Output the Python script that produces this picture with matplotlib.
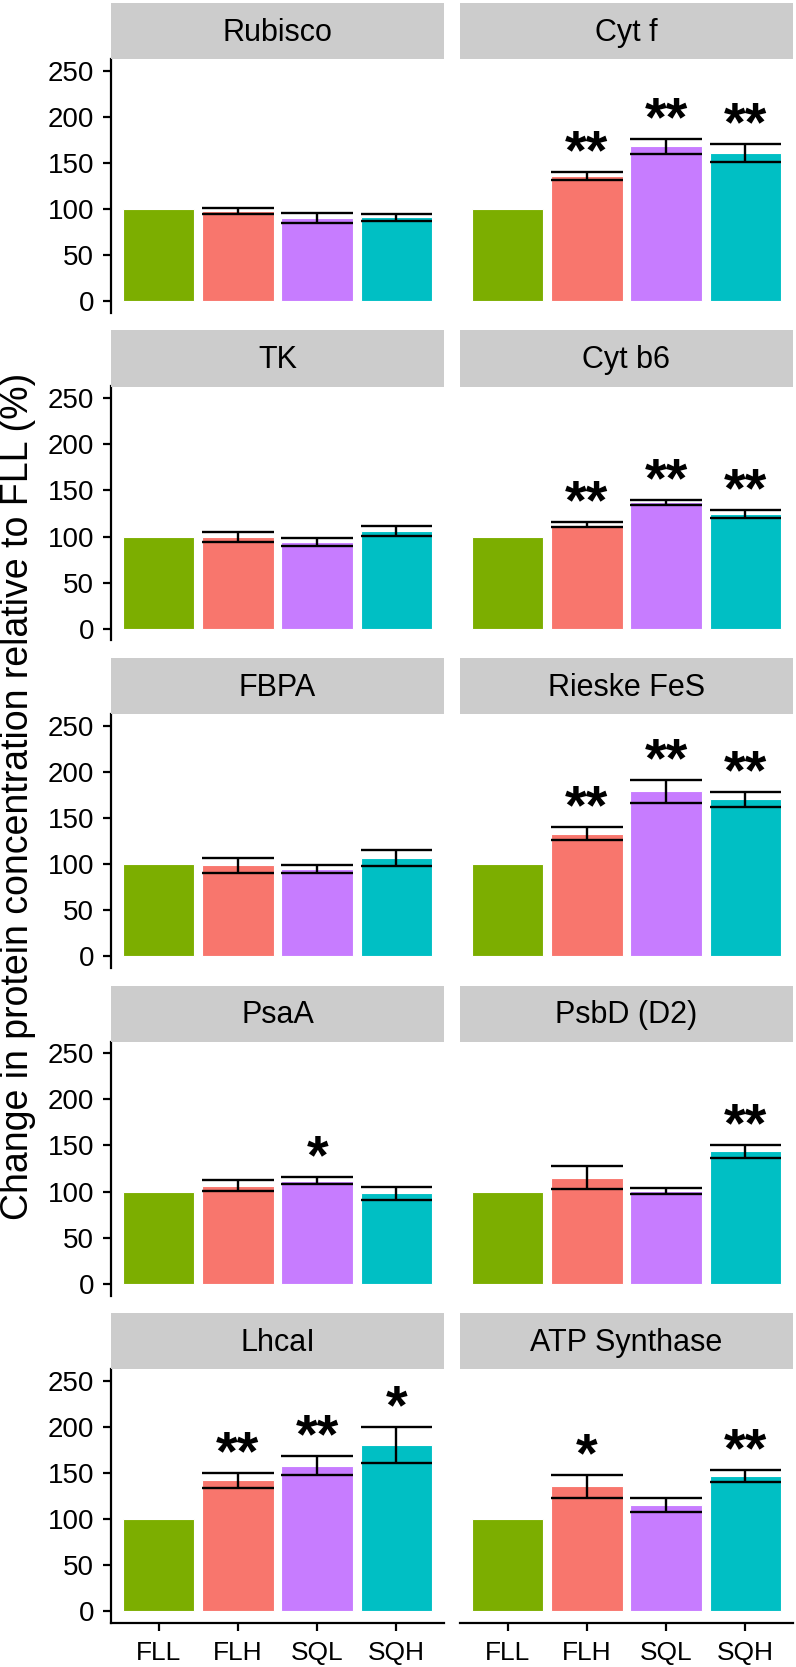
import matplotlib
matplotlib.use("Agg")
import matplotlib.pyplot as plt
import numpy as np

plt.rcParams['font.family'] = ['Liberation Sans', 'DejaVu Sans']

groups = ["FLL", "FLH", "SQL", "SQH"]
colors = ["#7CAE00", "#F8766D", "#C77CFF", "#00BFC4"]
proteins = ["Rubisco", "Cyt f", "TK", "Cyt b6", "FBPA", "Rieske FeS",
            "PsaA", "PsbD (D2)", "LhcaI", "ATP Synthase"]

rubisco_mean = [100, 98, 90, 91]
rubisco_se = [0, 3.5, 5.4, 4.0]
cytf_mean = [100, 136, 168, 161]
cytf_se = [0, 4.5, 8.2, 10.0]
tk_mean = [100, 99.8, 94, 106]
tk_se = [0, 5.2, 4.5, 5.5]
cytb6_mean = [100, 113, 137, 124]
cytb6_se = [0, 2.5, 3.0, 4.3]
fbpa_mean = [100, 98.5, 95, 106.5]
fbpa_se = [0, 8.0, 4.5, 8.3]
rieske_mean = [100, 133, 179, 170.3]
rieske_se = [0, 7.4, 12.4, 8.1]
psaa_mean = [100, 106.5, 112, 98.4]
psaa_se = [0, 6.0, 4.3, 7.0]
psbd_mean = [100, 115, 101, 143.5]
psbd_se = [0, 12.6, 3.4, 7.2]
lhca_mean = [100, 142, 158, 180]
lhca_se = [0, 8.3, 10.0, 19.6]
atp_mean = [100, 135.5, 115, 146.5]
atp_se = [0, 12.2, 7.4, 6.5]

rubisco_sig = ["", "", "", ""]
cytf_sig = ["", "**", "**", "**"]
tk_sig = ["", "", "", ""]
cytb6_sig = ["", "**", "**", "**"]
fbpa_sig = ["", "", "", ""]
rieske_sig = ["", "**", "**", "**"]
psaa_sig = ["", "", "*", ""]
psbd_sig = ["", "", "", "**"]
lhca_sig = ["", "**", "**", "*"]
atp_sig = ["", "*", "", "**"]

means = [rubisco_mean, cytf_mean, tk_mean, cytb6_mean, fbpa_mean,
         rieske_mean, psaa_mean, psbd_mean, lhca_mean, atp_mean]
ses = [rubisco_se, cytf_se, tk_se, cytb6_se, fbpa_se,
       rieske_se, psaa_se, psbd_se, lhca_se, atp_se]
sigs = [rubisco_sig, cytf_sig, tk_sig, cytb6_sig, fbpa_sig,
        rieske_sig, psaa_sig, psbd_sig, lhca_sig, atp_sig]

yticks = [0, 50, 100, 150, 200, 250]

W, H = 796, 1667
fig = plt.figure(figsize=(W / 100, H / 100), dpi=100)

cols = [(111, 444), (460, 793)]
row_step = 327.5
x = np.arange(1, 5)

for i, name in enumerate(proteins):
    r, c = divmod(i, 2)
    x0, x1 = cols[c]
    s_top = 3 + r * row_step
    s_bot = 59 + r * row_step
    a_bot = 313 + r * row_step
    ax = fig.add_axes([x0 / W, 1 - a_bot / H, (x1 - x0) / W, (a_bot - s_bot) / H])
    sax = fig.add_axes([x0 / W, 1 - s_bot / H, (x1 - x0) / W, (s_bot - s_top) / H])
    sax.set_facecolor("#CCCCCC")
    sax.set_xticks([]); sax.set_yticks([])
    for sp in sax.spines.values():
        sp.set_visible(False)
    sax.text(0.5, 0.47, name, ha="center", va="center", fontsize=22, transform=sax.transAxes)

    m = np.array(means[i], dtype=float)
    s = np.array(ses[i], dtype=float)
    ax.bar(x, m, width=0.9, color=colors, edgecolor="white", linewidth=0.8, zorder=2)
    has = s > 0
    ax.vlines(x[has], (m - s)[has], (m + s)[has], color="black", linewidth=1.7, zorder=3)
    ax.hlines((m - s)[has], x[has] - 0.45, x[has] + 0.45, color="black", linewidth=1.7, zorder=3)
    ax.hlines((m + s)[has], x[has] - 0.45, x[has] + 0.45, color="black", linewidth=1.7, zorder=3)
    for xi, mi, si, lab in zip(x, m, s, sigs[i]):
        if lab:
            ax.text(xi, mi + si + 4, lab, ha="center", va="baseline", fontsize=40,
                    fontweight="bold", zorder=4)

    ax.set_xlim(0.4, 4.6)
    ax.set_ylim(-12.5, 262.5)
    ax.set_yticks(yticks)
    ax.set_yticklabels([str(t) for t in yticks], fontsize=20)
    ax.spines["top"].set_visible(False)
    ax.spines["right"].set_visible(False)
    ax.spines["left"].set_linewidth(1.6)
    ax.tick_params(axis="y", length=6, width=1.6, pad=6, labelsize=20)
    if r == 4:
        ax.spines["bottom"].set_linewidth(1.6)
        ax.set_xticks(x)
        ax.set_xticklabels(groups, fontsize=19)
        ax.tick_params(axis="x", length=6, width=1.6, pad=7, labelsize=19)
    else:
        ax.spines["bottom"].set_visible(False)
        ax.set_xticks([])
    if c == 1:
        ax.spines["left"].set_visible(False)
        ax.tick_params(axis="y", left=False, labelleft=False)

fig.text(18 / W, 1 - 796 / H, "Change in protein concentration relative to FLL (%)",
         rotation=90, ha="center", va="center", fontsize=27)

fig.savefig("out.png", dpi=100)
